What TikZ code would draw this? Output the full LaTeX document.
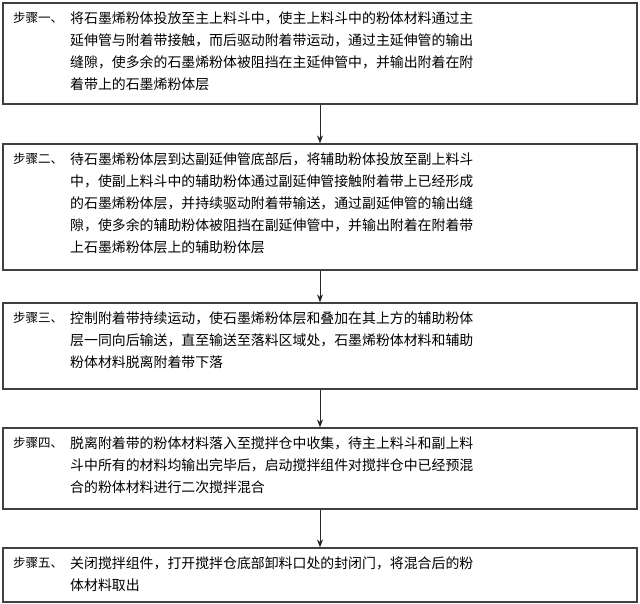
\documentclass[tikz,border=0pt]{standalone}
\usepackage{fontspec}
\setmainfont{Noto Sans CJK SC}
\usetikzlibrary{arrows.meta}
\tikzset{
  stepbox/.style={draw=black!75,line width=1.2pt,minimum width=634pt,inner sep=0pt},
  steplabel/.style={anchor=north west,inner sep=0pt,font=\fontsize{12.5pt}{22pt}\selectfont},
  steptext/.style={anchor=north west,inner sep=0pt,align=left,font=\fontsize{13.9pt}{22pt}\selectfont},
  flow/.style={-{Stealth[length=8pt,width=6pt]},line width=1pt,black!85}
}
\begin{document}
\begin{tikzpicture}[x=1pt,y=-1pt]
\useasboundingbox (0,0) rectangle (640,604);
\node[stepbox,minimum height=101pt] (b1) at (320,53.5) {};
\node[stepbox,minimum height=126pt] (b2) at (320,207) {};
\node[stepbox,minimum height=86pt] (b3) at (320,346) {};
\node[stepbox,minimum height=81pt] (b4) at (320,468.5) {};
\node[stepbox,minimum height=54pt] (b5) at (320,575) {};

\node[steplabel] (l1) at (13,12) {步骤一、};
\node[steptext] (t1) at (70,12) {将石墨烯粉体投放至主上料斗中，使主上料斗中的粉体材料通过主\\延伸管与附着带接触，而后驱动附着带运动，通过主延伸管的输出\\缝隙，使多余的石墨烯粉体被阻挡在主延伸管中，并输出附着在附\\着带上的石墨烯粉体层};
\node[steplabel] (l2) at (13,153) {步骤二、};
\node[steptext] (t2) at (70,153) {待石墨烯粉体层到达副延伸管底部后，将辅助粉体投放至副上料斗\\中，使副上料斗中的辅助粉体通过副延伸管接触附着带上已经形成\\的石墨烯粉体层，并持续驱动附着带输送，通过副延伸管的输出缝\\隙，使多余的辅助粉体被阻挡在副延伸管中，并输出附着在附着带\\上石墨烯粉体层上的辅助粉体层};
\node[steplabel] (l3) at (13,312) {步骤三、};
\node[steptext] (t3) at (70,312) {控制附着带持续运动，使石墨烯粉体层和叠加在其上方的辅助粉体\\层一同向后输送，直至输送至落料区域处，石墨烯粉体材料和辅助\\粉体材料脱离附着带下落};
\node[steplabel] (l4) at (13,437) {步骤四、};
\node[steptext] (t4) at (70,437) {脱离附着带的粉体材料落入至搅拌仓中收集，待主上料斗和副上料\\斗中所有的材料均输出完毕后，启动搅拌组件对搅拌仓中已经预混\\合的粉体材料进行二次搅拌混合};
\node[steplabel] (l5) at (13,557) {步骤五、};
\node[steptext] (t5) at (70,557) {关闭搅拌组件，打开搅拌仓底部卸料口处的封闭门，将混合后的粉\\体材料取出};

\draw[flow] (b1) -- (b2);
\draw[flow] (b2) -- (b3);
\draw[flow] (b3) -- (b4);
\draw[flow] (b4) -- (b5);
\end{tikzpicture}
\end{document}
